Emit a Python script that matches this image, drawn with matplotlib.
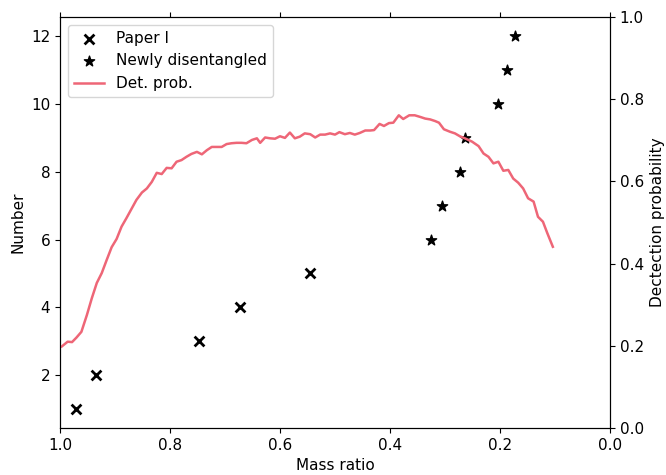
import matplotlib
matplotlib.use("Agg")
import matplotlib.pyplot as plt

plt.rcParams["font.size"] = 11

# Paper I systems
paper1_q = [0.971, 0.935, 0.747, 0.673, 0.545]
paper1_n = [1, 2, 3, 4, 5]

# newly disentangled systems
new_q = [0.325, 0.305, 0.273, 0.264, 0.204, 0.187, 0.173]
new_n = [6, 7, 8, 9, 10, 11, 12]

# detection probability vs mass ratio
det_q = [1.000, 0.997, 0.986, 0.978, 0.970, 0.961, 0.951, 0.942, 0.933, 0.924,
         0.915, 0.906, 0.897, 0.888, 0.879, 0.870, 0.861, 0.851, 0.842, 0.833,
         0.824, 0.815, 0.806, 0.797, 0.788, 0.779, 0.770, 0.761, 0.751, 0.742,
         0.733, 0.724, 0.715, 0.706, 0.697, 0.688, 0.679, 0.670, 0.661, 0.651,
         0.642, 0.636, 0.627, 0.618, 0.609, 0.600, 0.591, 0.582, 0.573, 0.564,
         0.555, 0.545, 0.536, 0.527, 0.518, 0.509, 0.500, 0.492, 0.482, 0.473,
         0.464, 0.455, 0.445, 0.436, 0.429, 0.419, 0.411, 0.402, 0.394, 0.384,
         0.376, 0.365, 0.355, 0.345, 0.336, 0.327, 0.318, 0.311, 0.302, 0.291,
         0.282, 0.273, 0.264, 0.251, 0.239, 0.230, 0.221, 0.212, 0.203, 0.194,
         0.185, 0.176, 0.167, 0.158, 0.149, 0.139, 0.131, 0.122, 0.114, 0.104]
det_p = [0.197, 0.198, 0.210, 0.209, 0.220, 0.234, 0.275, 0.316, 0.353, 0.377,
         0.409, 0.440, 0.460, 0.490, 0.511, 0.533, 0.555, 0.573, 0.583, 0.599,
         0.621, 0.618, 0.633, 0.632, 0.648, 0.652, 0.660, 0.667, 0.672, 0.666,
         0.676, 0.684, 0.684, 0.684, 0.691, 0.693, 0.694, 0.694, 0.693, 0.701,
         0.705, 0.694, 0.707, 0.705, 0.704, 0.710, 0.706, 0.719, 0.705, 0.709,
         0.717, 0.715, 0.707, 0.714, 0.714, 0.717, 0.714, 0.720, 0.715, 0.718,
         0.714, 0.718, 0.724, 0.724, 0.725, 0.740, 0.735, 0.742, 0.743, 0.761,
         0.752, 0.761, 0.761, 0.757, 0.753, 0.751, 0.747, 0.743, 0.727, 0.721,
         0.717, 0.710, 0.705, 0.697, 0.686, 0.668, 0.660, 0.644, 0.648, 0.626,
         0.628, 0.607, 0.597, 0.583, 0.559, 0.551, 0.514, 0.502, 0.474, 0.441]

fig = plt.figure(figsize=(6.66, 4.75), dpi=100)
ax = fig.add_axes([0.090, 0.099, 0.826, 0.865])

h1 = ax.scatter(paper1_q, paper1_n, marker="x", color="black", s=50,
                linewidths=2, label="Paper I", zorder=3)
h2 = ax.scatter(new_q, new_n, marker="*", color="black", s=60,
                label="Newly disentangled", zorder=3)
ax.set_xlim(1.0, 0.0)
ax.set_ylim(0.45, 12.55)
ax.set_xlabel("Mass ratio")
ax.set_ylabel("Number")
ax.xaxis.set_ticks_position("both")

ax2 = ax.twinx()
h3, = ax2.plot(det_q, det_p, color="#EE6677", lw=1.8, label="Det. prob.")
ax2.set_ylim(0.0, 1.0)
ax2.set_ylabel("Dectection probability")

ax.legend(handles=[h1, h2, h3], loc="upper left")

fig.savefig("out.png", dpi=100)
